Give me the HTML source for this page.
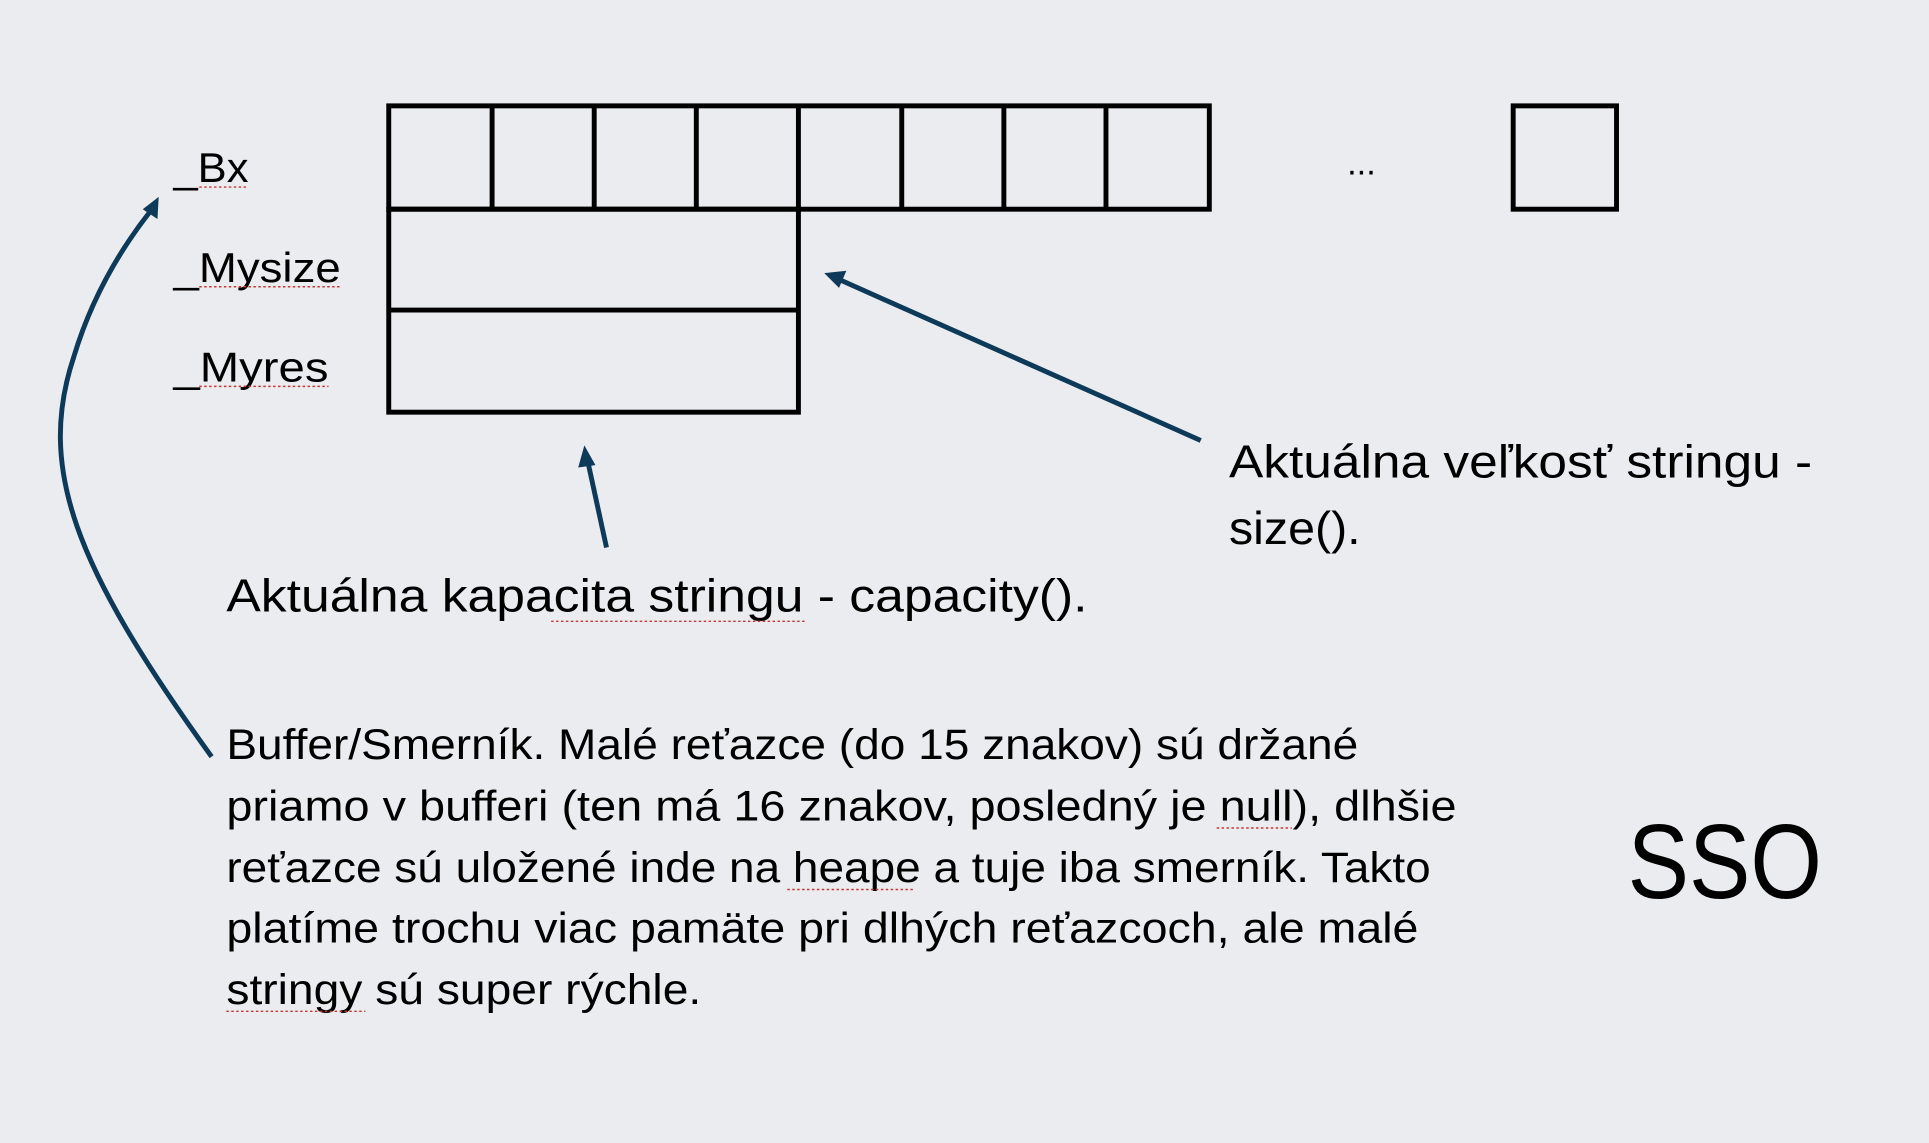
<!DOCTYPE html>
<html><head><meta charset="utf-8"><style>
html,body{margin:0;padding:0;background:#ebecf0;}
svg{display:block}
text{font-family:"Liberation Sans",sans-serif;fill:#000;}
</style></head><body>
<svg width="1929" height="1143" viewBox="0 0 1568 929" xmlns="http://www.w3.org/2000/svg">
<rect width="1568" height="929" fill="#ebecf0"/>
<g fill="none" stroke="#000" stroke-width="4">
<rect x="316" y="86" width="667" height="84"/>
<line x1="400" y1="86" x2="400" y2="170"/>
<line x1="483" y1="86" x2="483" y2="170"/>
<line x1="566" y1="86" x2="566" y2="170"/>
<line x1="649" y1="86" x2="649" y2="170"/>
<line x1="733" y1="86" x2="733" y2="170"/>
<line x1="816" y1="86" x2="816" y2="170"/>
<line x1="899" y1="86" x2="899" y2="170"/>
<rect x="1230" y="86" width="84" height="84"/>
<rect x="316" y="170" width="333" height="165"/>
<line x1="316" y1="252" x2="649" y2="252"/>
</g>
<text x="141" y="148" font-size="34" textLength="61" lengthAdjust="spacingAndGlyphs">_Bx</text>
<text x="141" y="229" font-size="34" textLength="136" lengthAdjust="spacingAndGlyphs">_Mysize</text>
<text x="141" y="310" font-size="34" textLength="126" lengthAdjust="spacingAndGlyphs">_Myres</text>
<text x="1095" y="142" font-size="28">...</text>
<g stroke="#0e3a5a" stroke-width="4" fill="none">
<line x1="976" y1="358" x2="684" y2="228"/>
<line x1="493" y1="445" x2="478" y2="376"/>
<path d="M172 615 C60 460 30 380 60 290 C75 240 100 200 122 172"/>
</g>
<g fill="#0e3a5a">
<polygon points="670,222 688,220 682,234"/>
<polygon points="475,362 484,378 470,380"/>
<polygon points="129,160 128,178 116,170"/>
</g>
<text x="999" y="388" font-size="38" textLength="474" lengthAdjust="spacingAndGlyphs">Aktuálna veľkosť stringu -</text>
<text x="999" y="442" font-size="38" textLength="107" lengthAdjust="spacingAndGlyphs">size().</text>
<text x="184" y="497" font-size="38" textLength="700" lengthAdjust="spacingAndGlyphs">Aktuálna kapacita stringu - capacity().</text>
<text x="184" y="617" font-size="35" textLength="920" lengthAdjust="spacingAndGlyphs">Buffer/Smerník. Malé reťazce (do 15 znakov) sú držané</text>
<text x="184" y="667" font-size="35" textLength="1000" lengthAdjust="spacingAndGlyphs">priamo v bufferi (ten má 16 znakov, posledný je null), dlhšie</text>
<text x="184" y="717" font-size="35" textLength="979" lengthAdjust="spacingAndGlyphs">reťazce sú uložené inde na heape a tuje iba smerník. Takto</text>
<text x="184" y="766" font-size="35" textLength="969" lengthAdjust="spacingAndGlyphs">platíme trochu viac pamäte pri dlhých reťazcoch, ale malé</text>
<text x="184" y="816" font-size="35" textLength="386" lengthAdjust="spacingAndGlyphs">stringy sú super rýchle.</text>
<text x="1323" y="730" font-size="86" textLength="158" lengthAdjust="spacingAndGlyphs">SSO</text>
<g stroke="#c33" stroke-width="1.2" stroke-dasharray="2 2" fill="none">
<line x1="162" y1="152" x2="202" y2="152"/>
<line x1="162" y1="233" x2="277" y2="233"/>
<line x1="162" y1="314" x2="267" y2="314"/>
<line x1="448" y1="505" x2="656" y2="505"/>
<line x1="989" y1="673" x2="1050" y2="673"/>
<line x1="640" y1="723" x2="743" y2="723"/>
<line x1="184" y1="822" x2="297" y2="822"/>
</g>
</svg>
</body></html>
